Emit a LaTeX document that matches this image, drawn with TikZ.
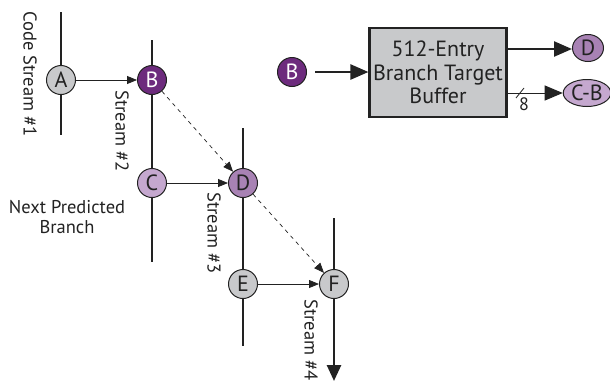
\documentclass[tikz,border=0pt]{standalone}
\usepackage{fontspec}
\setmainfont{PT Sans}
\usetikzlibrary{arrows.meta,calc,shapes.geometric}
\definecolor{evgray}{HTML}{C8C9CB}
\definecolor{dpurple}{HTML}{6D2B7D}
\definecolor{mpurple}{HTML}{A882B4}
\definecolor{lpurple}{HTML}{C5A8CF}
\definecolor{ink}{HTML}{222222}
\begin{document}
\begin{tikzpicture}[x=1pt,y=-1pt,
  ev/.style={circle, draw=ink, line width=1pt, minimum size=29pt, inner sep=0pt, text=ink,
    font=\fontsize{22}{22}\selectfont},
  evell/.style={ellipse, draw=ink, line width=1pt, inner sep=1pt, text=ink,
    font=\fontsize{22}{22}\selectfont},
  streamline/.style={line width=2.6pt, draw=ink},
  lbl/.style={font=\fontsize{18.5}{18.5}\selectfont, text=ink, inner sep=0pt},
  thinarrow/.style={-{Triangle[length=10pt,width=8pt]}, line width=0.8pt, draw=ink},
  dasharrow/.style={-{Triangle[length=10pt,width=8pt]}, line width=0.7pt, draw=ink, dash pattern=on 4pt off 4pt},
  thickarrow/.style={-{Triangle[length=18pt,width=15pt]}, line width=2.4pt, draw=ink},
]
\useasboundingbox (0,0) rectangle (610,381);
% stream lines
\coordinate (s1t) at (61,12);  \coordinate (s1b) at (61,135);
\coordinate (s2t) at (152,40); \coordinate (s2b) at (152,262);
\coordinate (s3t) at (243,128);\coordinate (s3b) at (243,346);
\coordinate (s4t) at (334,218);\coordinate (s4b) at (334,381);
\draw[streamline] (s1t) -- (s1b);
\draw[streamline] (s2t) -- (s2b);
\draw[streamline] (s3t) -- (s3b);
\draw[streamline, -{Triangle[length=16pt,width=14pt]}] (s4t) -- (s4b);
% events
\node[ev, fill=evgray] (A) at (61,80) {A};
\node[ev, fill=dpurple, text=white] (B) at (152,80) {B};
\node[ev, fill=lpurple] (C) at (152,183) {C};
\node[ev, fill=mpurple] (D) at (243,183) {D};
\node[ev, fill=evgray] (E) at (243,284) {E};
\node[ev, fill=evgray] (F) at (334,284) {F};
\draw[thinarrow] (A) -- (B);
\draw[thinarrow] (C) -- (D);
\draw[thinarrow] (E) -- (F);
\draw[dasharrow] (B) -- (D);
\draw[dasharrow] (D) -- (F);
% labels
\node[lbl, rotate=-90] (l1) at (30,74) {Code Stream \#1};
\node[lbl, rotate=-90] (l2) at (122,131) {Stream \#2};
\node[lbl, rotate=-90] (l3) at (214,233) {Stream \#3};
\node[lbl, rotate=-90] (l4) at (311,340) {Stream \#4};
\node[lbl, align=center] (np) at (67,217) {Next Predicted\\[1pt]Branch};
% BTB
\node[draw=ink, line width=2.6pt, fill=evgray, minimum width=131pt, minimum height=89pt,
  align=center, text=ink, font=\fontsize{22}{23.5}\selectfont] (btb) at (438,72.5)
  {512-Entry\\Branch Target\\Buffer};
\node[ev, fill=dpurple, text=white] (Bin) at (292,72) {B};
\node[evell, fill=mpurple, minimum width=31pt, minimum height=27pt] (Dout) at (588,48) {D};
\node[evell, fill=lpurple, minimum width=45pt, minimum height=27pt] (CB) at (587,93) {C-B};
\coordinate (o1) at (505,49);
\coordinate (o2) at (505,93);
\coordinate (i1) at (315,72);
\draw[thickarrow] (i1) -- (btb.west |- i1);
\draw[thickarrow] (o1) -- (Dout.west |- o1);
\draw[-{Triangle[length=18pt,width=15pt]}, line width=0.9pt, draw=ink] (o2) -- (CB.west |- o2);
\coordinate (sl) at (520,93);
\draw[line width=0.8pt, draw=ink] ($(sl)+(-4,5)$) -- ($(sl)+(4,-5)$);
\node[text=ink, inner sep=0pt, font=\fontsize{18}{18}\selectfont] (w8) at (524,104) {8};
\end{tikzpicture}
\end{document}
